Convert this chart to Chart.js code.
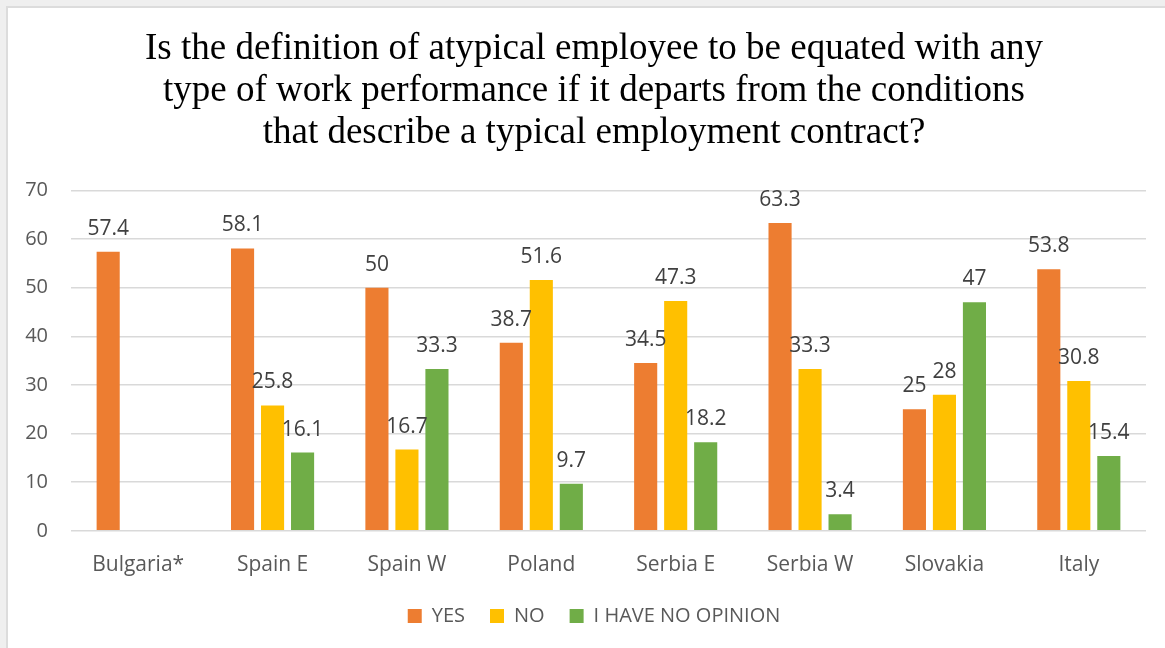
<!DOCTYPE html>
<html>
<head>
<meta charset="utf-8">
<script src="https://cdn.jsdelivr.net/npm/chart.js@4.4.0/dist/chart.umd.min.js"></script>
<style>
  html, body { margin: 0; padding: 0; background: #efefef; overflow: hidden; }
  #panel { position: absolute; left: 6px; top: 6px; width: 1200px; height: 700px;
           background: #fff; border: 2px solid #dcdcdc; }
  #wrap { position: absolute; left: 8px; top: 8px; width: 1170px; height: 640px; }
</style>
</head>
<body>
<div id="panel"></div>
<div id="wrap"><canvas id="myChart"></canvas></div>
<script>
// data
var countries = ["Bulgaria*", "Spain E", "Spain W", "Poland", "Serbia E", "Serbia W", "Slovakia", "Italy"];
var yes       = [57.4, 58.1, 50, 38.7, 34.5, 63.3, 25, 53.8];
var no        = [null, 25.8, 16.7, 51.6, 47.3, 33.3, 28, 30.8];
var noOpinion = [null, 16.1, 33.3, 9.7, 18.2, 3.4, 47, 15.4];
var yTicks    = [0, 10, 20, 30, 40, 50, 60, 70];

var labelFont = "'Open Sans', sans-serif";

// value labels above each bar
var barLabels = {
    id: 'barLabels',
    afterDatasetsDraw: function(chart) {
        var ctx = chart.ctx;
        ctx.save();
        ctx.font = "21px " + labelFont;
        ctx.fillStyle = "#404040";
        ctx.textAlign = "center";
        ctx.textBaseline = "alphabetic";
        chart.data.datasets.forEach(function(ds, i) {
            var meta = chart.getDatasetMeta(i);
            meta.data.forEach(function(bar, j) {
                var v = ds.data[j];
                if (v === null || v === undefined) return;
                ctx.fillText(String(v), bar.x, bar.y - 17);
            });
        });
        ctx.restore();
    }
};

// nudge the legend up, and let the y labels use the space left of the padding
var layoutTweaks = {
    id: 'layoutTweaks',
    afterLayout: function(chart) {
        chart.legend.top -= 11;
        chart.legend.bottom -= 11;
        chart.scales.y.left = 0;
    }
};

var ctx = document.getElementById("myChart").getContext("2d");
var myChart = new Chart(ctx, {
    type: 'bar',
    data: {
        labels: countries,
        datasets: [
            { label: "YES", data: yes, backgroundColor: "#ED7D31" },
            { label: "NO", data: no, backgroundColor: "#FFC000" },
            { label: "I HAVE NO OPINION", data: noOpinion, backgroundColor: "#70AD47" }
        ]
    },
    options: {
        responsive: true,
        maintainAspectRatio: false,
        animation: false,
        datasets: {
            bar: { categoryPercentage: 0.67, barPercentage: 0.77 }
        },
        layout: { padding: { left: 34, right: 32, top: 20, bottom: 1 } },
        plugins: {
            title: {
                display: true,
                text: [
                    "Is the definition of atypical employee to be equated with any",
                    "type of work performance if it departs from the conditions",
                    "that describe a typical employment contract?"
                ],
                color: "#000",
                font: { family: "'Liberation Serif', 'Times New Roman', serif", size: 37, weight: 'normal', lineHeight: 1.14 },
                padding: { top: 0, bottom: 36 }
            },
            legend: {
                position: 'bottom',
                labels: {
                    boxWidth: 14,
                    boxHeight: 14,
                    padding: 25,
                    color: "#595959",
                    font: { family: labelFont, size: 20 }
                }
            },
            tooltip: { enabled: false }
        },
        scales: {
            x: {
                grid: { display: false },
                border: { display: false },
                ticks: { color: "#595959", padding: 14, font: { family: labelFont, size: 21 } }
            },
            y: {
                min: 0,
                max: 70,
                afterBuildTicks: function(axis) {
                    axis.ticks = yTicks.map(function(v) { return { value: v }; });
                },
                afterFit: function(axis) { axis.width = 29; },
                grid: { color: "#d9d9d9", lineWidth: 1.5, drawTicks: false },
                border: { display: false },
                ticks: { color: "#595959", padding: 23, font: { family: labelFont, size: 20 } }
            }
        }
    },
    plugins: [barLabels, layoutTweaks]
});
</script>
</body>
</html>
